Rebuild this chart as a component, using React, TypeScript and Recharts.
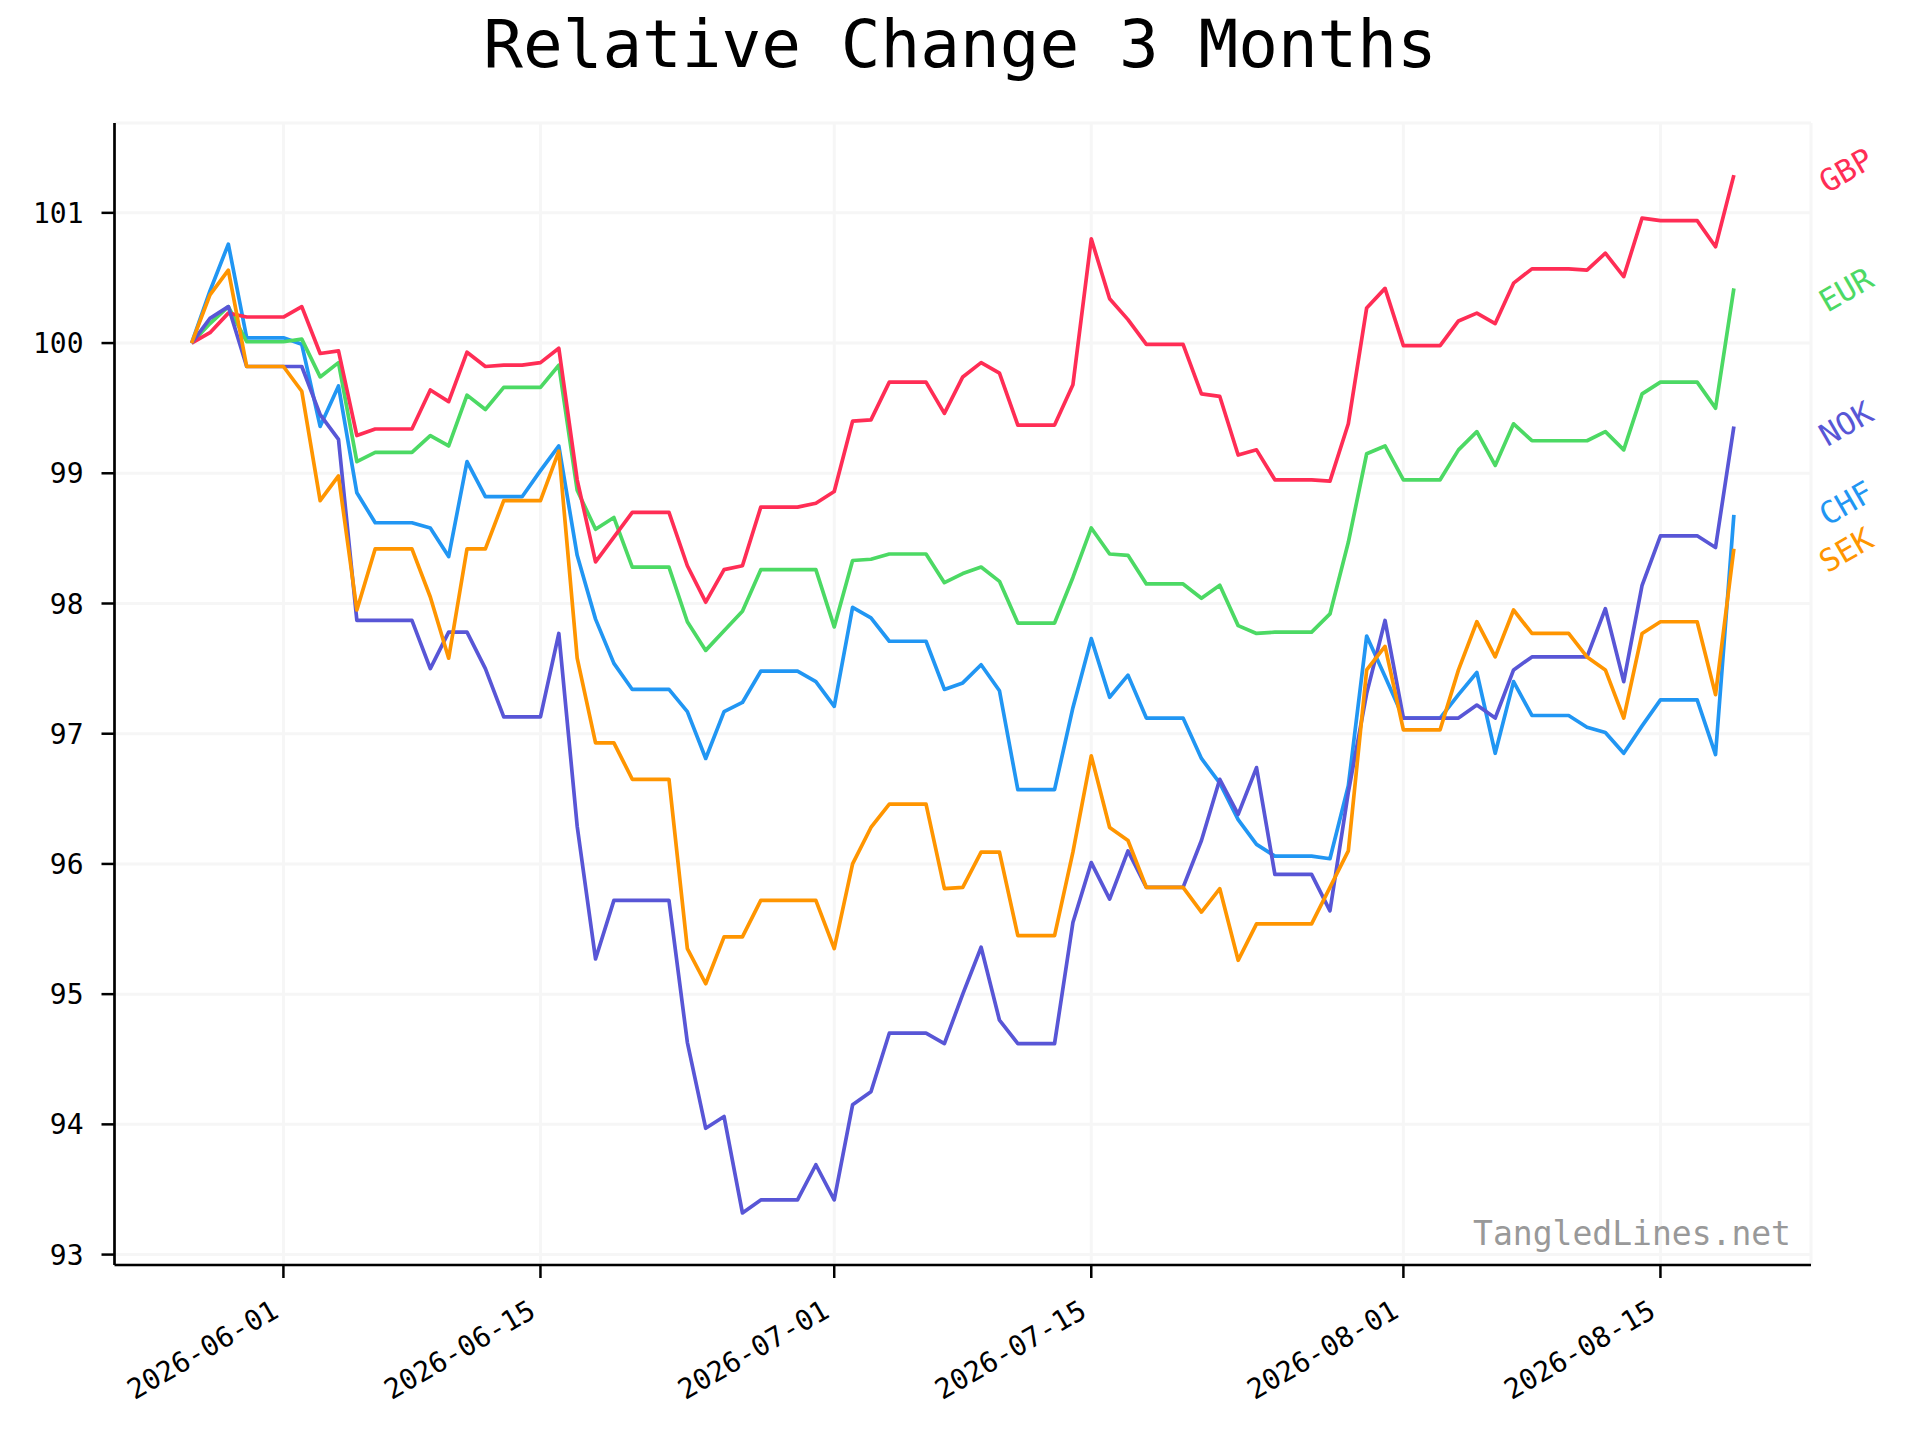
import { LineChart, Line, XAxis, YAxis, CartesianGrid, LabelList } from "recharts";

const START = "2026-05-27";

// one value per calendar day, 2026-05-27 .. 2026-08-19
const gbp = [
  100.0, 100.08, 100.23, 100.2, 100.2,
  100.2, 100.28, 99.92, 99.94, 99.29, 99.34, 99.34, 99.34, 99.64, 99.55,
  99.93, 99.82, 99.83, 99.83, 99.85, 99.96, 98.95, 98.32, 98.51, 98.7,
  98.7, 98.7, 98.29, 98.01, 98.26, 98.29, 98.74, 98.74, 98.74, 98.77,
  98.86, 99.4, 99.41, 99.7, 99.7, 99.7, 99.46, 99.74, 99.85, 99.77,
  99.37, 99.37, 99.37, 99.68, 100.8, 100.34, 100.18, 99.99, 99.99, 99.99,
  99.61, 99.59, 99.14, 99.18, 98.95, 98.95, 98.95, 98.94, 99.38, 100.27, 100.42,
  99.98, 99.98, 99.98, 100.17, 100.23, 100.15, 100.46, 100.57, 100.57, 100.57,
  100.56, 100.69, 100.51, 100.96, 100.94, 100.94, 100.94, 100.74, 101.29,
];

const eur = [
  100.0, 100.15, 100.28, 100.01, 100.01,
  100.01, 100.03, 99.74, 99.85, 99.09, 99.16, 99.16, 99.16, 99.29, 99.21,
  99.6, 99.49, 99.66, 99.66, 99.66, 99.83, 98.87, 98.57, 98.66, 98.28,
  98.28, 98.28, 97.86, 97.64, 97.79, 97.94, 98.26, 98.26, 98.26, 98.26,
  97.82, 98.33, 98.34, 98.38, 98.38, 98.38, 98.16, 98.23, 98.28, 98.17,
  97.85, 97.85, 97.85, 98.2, 98.58, 98.38, 98.37, 98.15, 98.15, 98.15,
  98.04, 98.14, 97.83, 97.77, 97.78, 97.78, 97.78, 97.92, 98.47, 99.15, 99.21,
  98.95, 98.95, 98.95, 99.18, 99.32, 99.06, 99.38, 99.25, 99.25, 99.25,
  99.25, 99.32, 99.18, 99.61, 99.7, 99.7, 99.7, 99.5, 100.42,
];

const nok = [
  100.0, 100.19, 100.28, 99.82, 99.82,
  99.82, 99.82, 99.45, 99.26, 97.87, 97.87, 97.87, 97.87, 97.5, 97.78,
  97.78, 97.5, 97.13, 97.13, 97.13, 97.77, 96.29, 95.27, 95.72, 95.72,
  95.72, 95.72, 94.63, 93.97, 94.06, 93.32, 93.42, 93.42, 93.42, 93.69,
  93.42, 94.15, 94.25, 94.7, 94.7, 94.7, 94.62, 95.0, 95.36, 94.8,
  94.62, 94.62, 94.62, 95.55, 96.01, 95.73, 96.1, 95.82, 95.82, 95.82,
  96.18, 96.65, 96.38, 96.74, 95.92, 95.92, 95.92, 95.64, 96.55, 97.31, 97.87,
  97.12, 97.12, 97.12, 97.12, 97.22, 97.12, 97.49, 97.59, 97.59, 97.59,
  97.59, 97.96, 97.4, 98.14, 98.52, 98.52, 98.52, 98.43, 99.36,
];

const chf = [
  100.0, 100.4, 100.76, 100.04, 100.04,
  100.04, 99.99, 99.36, 99.67, 98.85, 98.62, 98.62, 98.62, 98.58, 98.36,
  99.09, 98.82, 98.82, 98.82, 99.02, 99.21, 98.37, 97.88, 97.54, 97.34,
  97.34, 97.34, 97.17, 96.81, 97.17, 97.24, 97.48, 97.48, 97.48, 97.4,
  97.21, 97.97, 97.89, 97.71, 97.71, 97.71, 97.34, 97.39, 97.53, 97.33,
  96.57, 96.57, 96.57, 97.2, 97.73, 97.28, 97.45, 97.12, 97.12, 97.12,
  96.81, 96.62, 96.34, 96.15, 96.06, 96.06, 96.06, 96.04, 96.6, 97.75, 97.44,
  97.12, 97.12, 97.12, 97.3, 97.47, 96.85, 97.4, 97.14, 97.14, 97.14,
  97.05, 97.01, 96.85, 97.06, 97.26, 97.26, 97.26, 96.84, 98.68,
];

const sek = [
  100.0, 100.37, 100.56, 99.82, 99.82,
  99.82, 99.63, 98.79, 98.98, 97.95, 98.42, 98.42, 98.42, 98.05, 97.58,
  98.42, 98.42, 98.79, 98.79, 98.79, 99.17, 97.58, 96.93, 96.93, 96.65,
  96.65, 96.65, 95.35, 95.08, 95.44, 95.44, 95.72, 95.72, 95.72, 95.72,
  95.35, 96.0, 96.28, 96.46, 96.46, 96.46, 95.81, 95.82, 96.09, 96.09,
  95.45, 95.45, 95.45, 96.09, 96.83, 96.28, 96.18, 95.82, 95.82, 95.82,
  95.63, 95.81, 95.26, 95.54, 95.54, 95.54, 95.54, 95.82, 96.1, 97.49, 97.67,
  97.03, 97.03, 97.03, 97.49, 97.86, 97.59, 97.95, 97.77, 97.77, 97.77,
  97.59, 97.49, 97.12, 97.77, 97.86, 97.86, 97.86, 97.3, 98.42,
];

const xTickLabels = ["2026-06-01", "2026-06-15", "2026-07-01", "2026-07-15", "2026-08-01", "2026-08-15"];
const yTicks = [93, 94, 95, 96, 97, 98, 99, 100, 101];

// drawing order and colours
const series = [
  { key: "CHF", values: chf, color: "#2196f3", dy: -12 },
  { key: "EUR", values: eur, color: "#4cd964", dy: 1 },
  { key: "GBP", values: gbp, color: "#ff2d55", dy: -5 },
  { key: "NOK", values: nok, color: "#5856d6", dy: -3 },
  { key: "SEK", values: sek, color: "#ff9500", dy: 1 },
];

const DAY = 86400000;
const dayIndex = (d: string) => Math.round((Date.parse(d) - Date.parse(START)) / DAY);

const data = gbp.map((_, i) => {
  const row: any = { t: i };
  series.forEach((s) => (row[s.key] = s.values[i]));
  return row;
});

const last = gbp.length - 1;
const xTicks = xTickLabels.map(dayIndex);
const FONT = "DejaVu Sans Mono";

const XTick = ({ x, y, payload }: any) => {
  const label = xTickLabels[xTicks.indexOf(payload.value)];
  return (
    <g transform={`translate(${x - 3},${y + 18})`}>
      <text textAnchor="end" transform="rotate(-30)" fontFamily={FONT} fontSize={28} fill="#000">
        {label}
      </text>
    </g>
  );
};

const YTick = ({ x, y, payload }: any) => (
  <text x={x} y={y} dy="0.36em" textAnchor="end" fontFamily={FONT} fontSize={28} fill="#000">
    {payload.value}
  </text>
);

const endLabel = (name: string, color: string, dy: number) => (props: any) => {
  if (props.index !== last) return null;
  const cx = props.x + 112;
  const cy = props.y + dy;
  return (
    <text
      x={cx}
      y={cy}
      dy="0.36em"
      textAnchor="middle"
      transform={`rotate(-30, ${cx}, ${cy})`}
      fontFamily={FONT}
      fontSize={31}
      fill={color}
    >
      {name}
    </text>
  );
};

export default function App() {
  return (
    <div style={{ position: "absolute", left: 0, top: 0, width: 1920, height: 1440, background: "#fff" }}>
      <LineChart width={1920} height={1440} data={data} margin={{ top: 123, right: 109, bottom: 0, left: 0 }}>
        <CartesianGrid stroke="#f6f6f6" strokeWidth={3} />
        <XAxis
          dataKey="t"
          type="number"
          domain={[-4.2, 88.2]}
          ticks={xTicks}
          allowDataOverflow
          height={175}
          tickSize={13}
          tickMargin={20}
          tick={<XTick />}
          axisLine={{ stroke: "#000", strokeWidth: 2.7 }}
          tickLine={{ stroke: "#000", strokeWidth: 2.5 }}
        />
        <YAxis
          type="number"
          domain={[92.92, 101.69]}
          ticks={yTicks}
          allowDataOverflow
          width={114.5}
          tickSize={13}
          tickMargin={18}
          tick={<YTick />}
          axisLine={{ stroke: "#000", strokeWidth: 2.7 }}
          tickLine={{ stroke: "#000", strokeWidth: 2.5 }}
        />
        {series.map((s) => (
          <Line
            key={s.key}
            type="linear"
            dataKey={s.key}
            stroke={s.color}
            strokeWidth={3.7}
            strokeLinejoin="round"
            dot={false}
            isAnimationActive={false}
          >
            <LabelList dataKey={s.key} content={endLabel(s.key, s.color, s.dy)} />
          </Line>
        ))}
      </LineChart>
      <svg width={1920} height={1440} style={{ position: "absolute", left: 0, top: 0, pointerEvents: "none" }}>
        <text x={960} y={67} textAnchor="middle" fontFamily={FONT} fontSize={66} fill="#000">
          Relative Change 3 Months
        </text>
        <text x={1791} y={1245} textAnchor="end" fontFamily={FONT} fontSize={33} fill="#999">
          TangledLines.net
        </text>
      </svg>
    </div>
  );
}
